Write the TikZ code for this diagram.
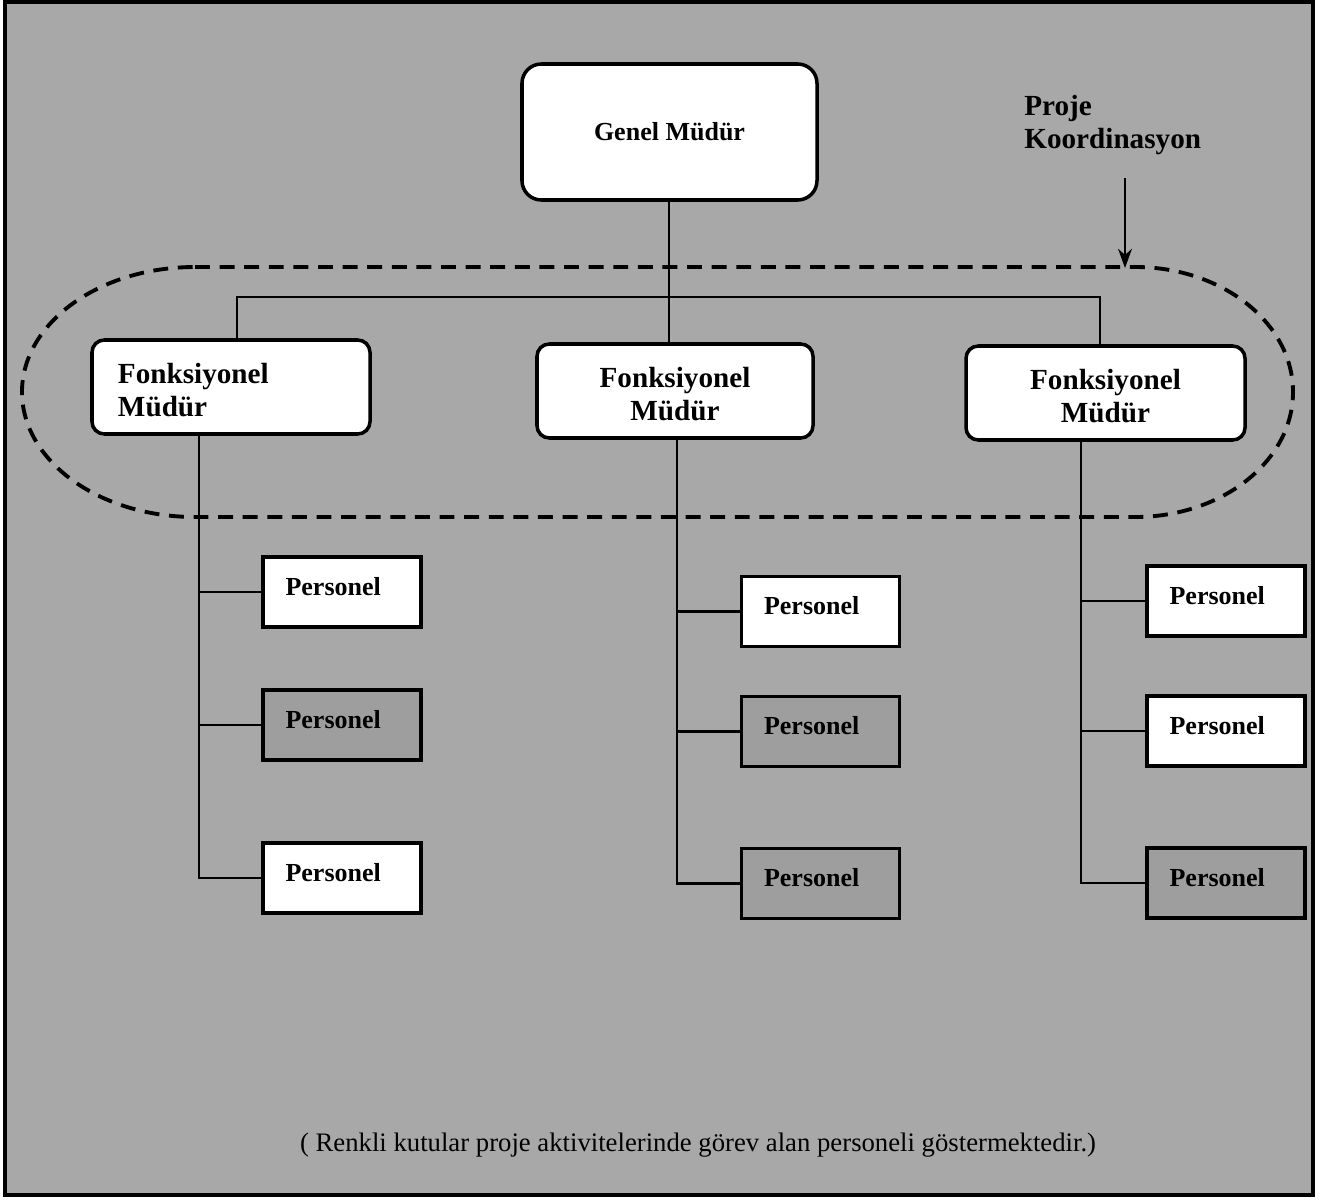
\documentclass[tikz,border=0pt]{standalone}
\usepackage{fontspec}
\setmainfont{Liberation Serif}
\usetikzlibrary{arrows.meta}
\definecolor{paper}{gray}{0.66}
\definecolor{shade}{gray}{0.62}
\begin{document}
\begin{tikzpicture}[x=0.2mm,y=-0.2mm,
  frame/.style={line width=1.8pt},
  link/.style={line width=1.4pt},
  coord/.style={line width=2.2pt, dash pattern=on 8.5pt off 5.5pt},
  topbox/.style={draw, line width=2pt, fill=white, rounded corners=11pt,
    minimum width=59mm, minimum height=27.2mm, inner sep=0pt,
    font=\fontsize{14.8}{17}\selectfont\bfseries},
  mgrbox/.style={draw, line width=2pt, fill=white, rounded corners=7pt,
    minimum height=18.8mm, inner sep=0pt, align=center,
    font=\fontsize{16.6}{18.7}\selectfont\bfseries},
  stafbox/.style={draw, line width=1.8pt, minimum width=31.6mm, minimum height=14mm,
    inner sep=0pt, text depth=6.8pt,
    font=\fontsize{14.8}{17}\selectfont\bfseries},
  plain/.style={stafbox, fill=white},
  active/.style={stafbox, fill=shade},
  note/.style={inner sep=0pt, align=left, font=\fontsize{16.6}{18.7}\selectfont\bfseries}
]
% page and frame
\useasboundingbox (0,0) rectangle (1321,1201);
\fill[white] (0,0) rectangle (1321,1201);
\fill[paper] (5,2) rectangle (1313,1195);
\draw[frame] (5,2) rectangle (1313,1195);

% project coordination zone (y axis points down, so angles are mirrored)
\draw[coord] (195,267) -- (1135,267)
  arc[start angle=-90, end angle=90, x radius=158, y radius=125]
  -- (195,517)
  arc[start angle=90, end angle=270, x radius=173, y radius=125];

% boxes
\node[topbox] (gm) at (669.5,132) {Genel Müdür};
\node[mgrbox, minimum width=55.6mm, text width=45.2mm, align=left] (lf) at (231,387) {\rule{0pt}{15pt}Fonksiyonel\\Müdür};
\node[mgrbox, minimum width=55.2mm] (mf) at (675,391) {\rule{0pt}{15pt}Fonksiyonel\\Müdür};
\node[mgrbox, minimum width=55.8mm] (rf) at (1105.5,393) {\rule{0pt}{15pt}Fonksiyonel\\Müdür};

\node[plain]  (l1) at (342,592) {Personel\hspace*{10pt}};
\node[active] (l2) at (342,725) {Personel\hspace*{10pt}};
\node[plain]  (l3) at (342,878) {Personel\hspace*{10pt}};
\node[plain]  (m1) at (820.5,611.5) {Personel\hspace*{10pt}};
\node[active] (m2) at (820.5,731.5) {Personel\hspace*{10pt}};
\node[active] (m3) at (820.5,883.5) {Personel\hspace*{10pt}};
\node[plain]  (r1) at (1226,601) {Personel\hspace*{10pt}};
\node[plain]  (r2) at (1226,731) {Personel\hspace*{10pt}};
\node[active] (r3) at (1226,883) {Personel\hspace*{10pt}};

% reporting lines
\coordinate (bar) at (0,297);
\coordinate (lx) at (237,0);
\coordinate (cx) at (669,0);
\coordinate (rx) at (1100,0);
\draw[link] (gm.south -| cx) -- (mf.north -| cx);
\draw[link] (lf.north -| lx) -- (lx |- bar) -- (rx |- bar) -- (rf.north -| rx);

\coordinate (ls) at (199,0);
\coordinate (ms) at (677,0);
\coordinate (rs) at (1081,0);
\draw[link] (lf.south -| ls) |- (l3.west);
\draw[link] (l1.west) -- (l1.west -| ls);
\draw[link] (l2.west) -- (l2.west -| ls);
\draw[link] (mf.south -| ms) |- (m3.west);
\draw[link] (m1.west) -- (m1.west -| ms);
\draw[link] (m2.west) -- (m2.west -| ms);
\draw[link] (rf.south -| rs) |- (r3.west);
\draw[link] (r1.west) -- (r1.west -| rs);
\draw[link] (r2.west) -- (r2.west -| rs);

% coordination label and pointer
\node[note, anchor=west] (pk) at (1024,125) {Proje\\Koordinasyon};
\coordinate (ptop) at (1125,178);
\coordinate (ptip) at (1125,268);
\draw[line width=0.9pt, -{Stealth[length=11pt,width=8pt]}] (ptop) -- (ptip);

% caption
\node[inner sep=0pt, font=\fontsize{15.2}{18}\selectfont] (cap) at (698,1145)
  {( Renkli kutular proje aktivitelerinde görev alan personeli göstermektedir.)};
\end{tikzpicture}
\end{document}
